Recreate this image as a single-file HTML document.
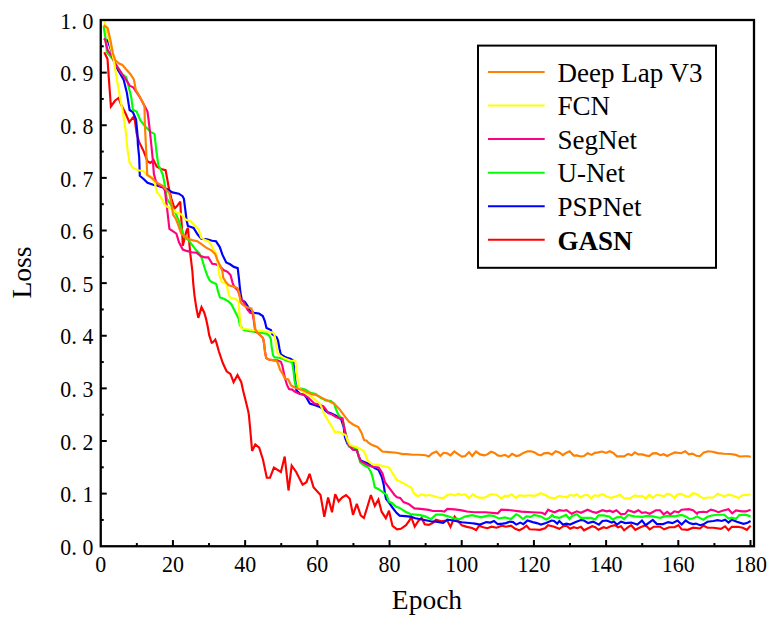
<!DOCTYPE html>
<html><head><meta charset="utf-8"><style>
html,body{margin:0;padding:0;background:#fff;}
body{width:777px;height:626px;overflow:hidden;}
svg{display:block;}
.t{font-family:"Liberation Serif",serif;font-size:23px;fill:#000;}
.ti{font-family:"Liberation Serif",serif;font-size:27.5px;fill:#000;}
.lg{font-family:"Liberation Serif",serif;font-size:27px;fill:#000;}
</style></head><body>
<svg width="777" height="626" viewBox="0 0 777 626">
<polyline points="104.3,52.2 107.5,59 108.8,78 110.9,106.5 115.2,100.5 118.6,98 121.3,105 125.6,113.5 129.3,122.2 133.2,117.2 134.9,120.6 136.6,133.2 139.2,142.2 143.6,151.1 147.5,161.3 150.4,163 153.6,160 156.6,166.4 161.1,169 165.6,170.2 167.5,180.4 168.8,188.1 171.3,198.3 174.5,208.6 177.1,206 180.3,201.5 180.9,213.7 182.2,231.6 182.8,245.8 184.7,238.1 186.6,230.4 187.9,227.9 189.2,242 190.4,254.7 192.4,271.3 193.2,282.8 194.5,295.6 196.4,308.3 198.3,317.9 201.5,307.1 204.1,312.2 206,318.6 207.9,327.5 209.2,335.2 211.7,342.8 212.6,342.6 215.3,339.5 216.4,342.6 218.9,351.5 222.8,363 226.6,371.3 230.4,373.9 233.6,382.2 237.5,375.1 241.3,382.2 243.2,391.1 245.8,401.3 248.3,411.6 248.9,415.1 250.2,429.2 252.1,450.9 255.3,444.5 259.2,447.7 263,459.8 266.8,477.7 270,477.7 273.9,467.5 280.9,472 284.7,456.6 288.5,490.5 291.7,465.6 296.2,472 302.6,484.7 306.4,482.2 309.6,473.9 313.5,487.3 320.5,495 324.3,516.7 328.1,497.5 332,512.2 335.2,494.3 338.6,501.3 342.1,497.5 346,495 349.8,498.8 353,514.8 356.8,503.9 360.7,515.4 363.9,518 367.1,507.7 370.9,495 374.8,505.9 378.4,499.5 381.6,511.7 385.8,518.2 389,510.8 392.5,525.9 397,529.4 400.9,528.8 406,525.2 409.3,520.7 411.2,516.9 414.7,526.5 418.5,520.7 421.6,517.7 424.7,524.3 428.8,524.9 432.9,522.8 436,519.7 441.2,521.3 444.3,520.7 447.4,520.7 450.5,526.9 454.6,516.6 457.7,520.7 461.8,525.4 466.9,526.9 472.1,528 476.2,530 479.1,525.7 483.2,527.2 487.4,528.2 491.5,526.7 496.6,527.7 501.8,525.7 505.9,526.7 511,525.7 515.2,528.8 519.3,530.3 523.4,528.2 526.5,525.7 529.6,529.3 534.7,529.5 539.9,529.8 545,528.2 548.1,525.2 552.2,526.2 554.1,526.7 559.3,528.8 563.4,526.2 566.5,525.7 570.1,528.8 573.7,527.2 577.3,528.2 580.9,526.7 584,530.3 588.1,528.2 592.2,526.2 595.3,527.2 598.4,529.8 603.5,527.2 606.6,528.2 610.7,526.2 614.9,525.2 618,527.2 621,526.2 624.1,530.3 628.2,527.2 631.2,525.2 635.3,529.8 640.4,527.2 645.6,525.2 649.7,529.3 653.8,526.7 660,526.7 664.1,529.3 669.3,527.2 674.4,527.2 678.5,525.2 681.6,529.3 687.8,529.8 693,527.7 700,528.5 703.4,525.6 707.5,527.7 713.4,527.7 720.9,528.9 725.1,526.4 728.5,530.2 731.8,526.8 737.7,526.8 742.7,527.7 746.9,529.8 750.6,525.6" fill="none" stroke="#ff0000" stroke-width="2.15" stroke-linejoin="miter" stroke-miterlimit="3" stroke-linecap="butt"/>
<polyline points="104.2,38.6 107.7,40.5 111.5,51.5 115.3,65.6 119.2,72 123.6,79.6 126.8,92.4 129.6,110 132.8,112.1 136,119.2 137.3,132 137.9,144.7 139.2,157.5 139.8,175.8 143.6,179 147.5,182.8 153.2,184.7 158.3,186 162.2,187.3 167.3,189.2 172.4,192.4 178.8,193.7 182.6,196.2 183.9,198.8 185.2,209 186.6,220.2 187.9,226 193.6,227.9 197.5,234.3 201.3,238.8 207.1,239.4 212.2,240.7 216,241.3 219.8,247.1 222.4,254.7 226.2,262.4 230.1,264.3 233.9,266.9 237.7,268.1 239,279 239.6,285 240.5,293 241.8,300 245,302 247.5,305.8 250.1,310.9 253.9,312.8 259,313.5 262.8,316 264.8,321.1 266.5,327.9 270.9,330 272.3,334.4 276.6,337.2 278.1,340.8 279.5,348.7 280.9,354.5 284.5,356.7 287.1,357.7 290.9,359 293.5,360.9 294.1,371.1 295.4,381.3 296.4,390.2 300.2,394.1 304.1,394.7 306.6,397.9 309.8,403.6 314.3,404.9 319.4,406.8 323.2,408.8 327.1,412 330.9,413.2 336,415.8 341.1,419 343.7,427.3 345,437.5 347.5,443.9 351.3,447.7 353,449.6 356.8,450.2 358.8,456.6 360.7,460.4 368.3,463.6 374.7,468.1 378.6,470 381.8,477.1 383.7,484.7 385,493.7 386,498.8 389.5,503.4 392.8,508 396.5,512.8 399.6,515.6 405.1,516.1 410.3,516.6 415.4,518.2 420.6,519.2 425.7,520.2 430.9,521.3 436,521.6 443.2,522.8 447.4,519.7 451.5,520.2 456.6,521.3 461.8,522.3 466.9,522.8 472.1,523.3 475,523.6 480.1,524.6 486.3,522.1 490.4,522.6 494,521 497.7,524.1 502.8,523.6 505.9,523.1 510,521.6 513.1,522.1 516.2,524.6 520.3,522.6 523.4,524.1 527.5,520.5 532.7,522.1 536.8,523.1 540.9,524.6 546,523.1 551.7,520.5 554.1,521 557.2,523.6 559.3,521 562.9,524.6 566.5,523.6 570.1,524.6 575.7,522.1 580.9,520 584,520.5 588.1,523.1 593.2,521.6 598.9,524.6 602.5,521 606.6,520.5 611.8,522.6 613.8,521.6 616.9,524.6 621,521.6 625.2,523.1 631.2,522.6 637.4,524.6 642,520.5 645.6,525.2 652.8,520 656.9,524.1 663.1,524.1 668.2,522.1 672.4,523.1 677.5,520.5 681.6,524.6 685.7,520.5 689.4,523.1 693,524.1 696,523.6 700,525.2 703.4,524.3 707.5,521.8 713.4,521 717.6,520.1 721.8,521 725.1,519.7 728.5,522.6 731.8,519.7 736.8,521.8 743.5,523.9 746.9,523.1 750.6,521" fill="none" stroke="#0000ff" stroke-width="2.15" stroke-linejoin="miter" stroke-miterlimit="3" stroke-linecap="butt"/>
<polyline points="103.6,26.4 105.8,40 106.9,52.4 112.4,58.8 117.9,67.5 122.4,74.5 126.2,77.1 128.8,87.3 131.3,97.5 132.9,109.8 136.6,111.5 140.4,120.4 145.6,126.8 150.7,132 154.5,133.9 156.4,151.1 158.3,165.2 160.4,169 163,175.3 164.9,185.6 166.8,198.3 170.7,204.7 174.5,211.1 178.6,220.1 181.5,229.2 184.1,236.8 189.2,240.7 191.7,244.5 195.6,249.6 199.4,253.5 201.9,258.6 204.5,267.5 207.1,275.2 209.6,280.3 211.7,282.1 216.2,284.1 218.1,291.7 220,297.5 223.9,298.8 228.3,301.3 231.5,304.5 235.4,312.2 238.6,318.6 239.8,325 243.7,330.1 250.1,331.1 257.2,332.2 266.5,333.6 269.4,335.8 270.9,339.4 271.6,346.6 273,355.2 274.5,357.4 278.8,357.7 282.4,358.8 287.4,361 292.2,362.2 293.5,371.1 294.7,381.3 295.8,385.1 300.2,388.3 305.3,389.6 310.4,392.8 315.6,394.1 320.7,397.9 325.8,400.4 330.9,401.1 334.1,403.6 336,409.4 338.6,415.1 341.1,417.7 342.4,418.3 343.7,424.7 345,431.1 346.9,438.8 348.8,446.5 353.9,447.7 357.2,450 358.8,456.6 360.2,462.4 364.5,465.6 368.3,467.5 371.5,473.2 373.5,480.9 374.7,487.3 378.6,489.2 382.4,491.8 385,493.7 386.7,495 388.7,501.4 391.9,503 395.7,506.6 399.6,507.9 405.1,511.5 410.3,514 415.4,514.6 420.6,515.1 425.7,516.6 430.9,519.2 436,514.6 442.2,514.6 447.4,516.1 453.5,518.2 459.7,519.2 464.9,516.6 472.1,515.1 481.2,517.4 488.4,515.4 493.5,515.9 498.7,518.5 504.9,517.4 511,519 516.2,514.3 519.3,515.9 522.9,519 526.5,516.4 530.6,516.9 534.2,514.9 540.9,516.4 546,519.5 549.1,518 552.2,514.9 554.1,516.9 559.3,517.9 566,514.9 569.6,519 572.1,515.9 576.8,514.3 580.9,517.9 586,517.9 591.2,517.9 595.3,519.5 598.4,515.4 603.5,515.4 609.2,516.4 612.8,519.5 616.9,517.4 621,516.9 624.1,519 628.1,514.9 634.3,516.4 642.5,516.9 646.6,515.9 652.8,516.4 660,518 664.1,516.4 669.3,515.9 674.4,516.4 681.6,514.9 685.7,516.4 689.4,519 693,518.5 697.1,516.4 699.2,517.6 703.4,519.7 707.5,516.8 711.7,515.5 717.6,514.7 724.3,514.7 728.5,518.5 731.8,517.6 736,518.9 739.3,515.1 745.2,514.7 750.6,516.4" fill="none" stroke="#00ff00" stroke-width="2.15" stroke-linejoin="miter" stroke-miterlimit="3" stroke-linecap="butt"/>
<polyline points="104,38.4 105.1,40 107.7,50.2 111.2,55 112.1,56.6 114,61.5 117.3,66.8 122.4,74.5 126.8,80.9 130,86 133.2,87.3 135.8,91.1 140,97.5 144.9,106.5 147.5,111.5 148.6,120 150,132 152.6,157.5 153.9,174.1 156,181.7 159.2,185.6 163,186.8 164.9,190.7 166.8,206 168.1,217.5 169.4,229 173.5,231.7 176.4,233.6 178.9,242 182.8,249.6 186.6,250.9 191.7,252.2 196.8,252.8 200.7,256 204.5,257.3 208.3,257.3 212.2,263.7 216,264.3 219.8,266.2 223.5,270.1 227.5,271.8 230.5,275 232.6,282.8 234.1,286.6 237.9,290.4 240.5,298.1 243.7,302 247.5,309.6 250.1,312.8 252.6,313.5 253.9,321.1 255.2,331.3 257.2,332.5 260.8,335.8 263,338 264,343 265.1,352.3 266.2,358.1 268.7,359.5 273.7,360.3 277.3,360.3 280.9,361.7 282.4,366 285.1,378.8 287.1,385.2 289,389 292.2,389.6 294.7,391.6 298.6,393.5 303.7,394.8 307.9,397.3 311.7,401.1 314.3,403.6 318.1,404.3 323.2,406.2 325.8,409.4 328.3,413.2 332.2,414.5 336,417.1 339.8,418.3 342.4,418.3 343.7,424.7 345,431.1 346.9,438.8 348.8,445.2 351.3,447.7 353,449.6 356.8,450.2 358.8,456.6 360.7,461.1 367.1,464.9 372.2,466.8 378.6,467.5 382.4,473.2 385,482.2 388.8,487.3 392.6,492.4 394.5,495 397,497.3 400.2,497.9 403.5,502.1 408.6,504 414.4,508.4 420.6,508.9 428.8,509.9 432.9,511 441.2,511 444.3,511.5 447.4,508.9 454.6,509.4 461.8,510.4 466.9,511.5 474.1,512.2 485.3,512.3 497.7,513.3 501.3,509.7 511,510.2 521.3,511.6 531.6,512.3 541.9,512.8 545,514.3 548.1,509.7 550,510.7 554.6,512.3 559.3,510.2 563.4,510.7 566.5,510.2 571.6,513.8 576.8,511.3 580.9,512.8 587.6,509.7 592.2,511.8 596.3,512.8 602.5,510.2 606.6,511.3 609.7,510.7 612.8,512 616.4,510.2 621,514.3 625.2,513.8 628.1,510.2 634.3,512.3 638.4,510.2 642,512.8 645.6,512.3 649.7,513.8 655.9,510.2 660,510.2 663.6,514.3 667.2,511.8 670.3,514.3 674.4,511.3 678.5,512.3 681.6,509.7 688.8,509.2 693,510.2 697.1,513.8 698.3,512.2 703.4,511.8 706.7,512.2 710.9,509.7 714.2,510.5 718.4,512.2 723.4,510.5 728.5,509.3 732.2,513.4 736,510.5 741.8,511.4 746,511.4 750.6,509.7" fill="none" stroke="#ff0080" stroke-width="2.15" stroke-linejoin="miter" stroke-miterlimit="3" stroke-linecap="butt"/>
<polyline points="104.4,20.5 108.6,38 113.7,59.6 117,80 120.5,100 123.2,114 125.8,132 127.7,151.1 129.6,162.6 132.8,167.7 137.9,170.3 143.6,171.3 146.8,175.1 151.9,177.1 154.5,182.2 157.1,192.4 159.6,195.3 162.1,199.2 164.7,204.9 167.3,206.8 172.4,209.4 175.6,212 180.7,213.9 185.8,219.6 190.9,221.5 194.1,224.7 198.6,229.2 201.1,237.5 205,240.1 208.8,241.3 211.3,245.2 213.9,250.3 216.5,254.1 217.3,260 217.9,263.7 219.2,274.5 221.5,281.5 226.5,284.1 229,295.6 230.9,298.1 235.4,298.8 238.6,301.9 239.2,310.9 240.5,325 241.8,328.8 247.5,329.2 253.9,330.3 261.6,331 266.6,331.5 273,332.6 274.5,334.4 275.2,339.4 276.3,346.6 277.3,352.3 279.5,355.2 283.8,358.1 290,360.5 295.4,360.9 296.6,371.1 297.9,381.3 299.2,387.7 302.8,391.5 309.2,394.7 314.3,399.2 319.4,403 321.9,408.1 324.5,414.5 328.3,420.9 332.2,427.3 334.7,431.8 338.6,431.8 342.4,433.7 345.6,435 347.5,440.1 350.1,445.2 355.2,446.5 359.6,448.4 363.7,451 366,456 367.3,460.4 372.2,464.3 378.6,464.9 383.7,466.2 388.8,467.5 392.6,473.2 396.5,479.6 400,481.5 405.1,484.1 411.5,487.9 414.1,493.7 417.9,496.2 421.7,494.3 425.6,495.6 429.4,495 434.5,496.2 438.3,497.5 443.5,498.1 447.3,495 451.1,494.3 455,495.6 458.1,493.7 461.3,495 465.2,494.3 469,498.1 472.8,494.3 476.7,496.9 480.1,497.9 485.3,497.4 490.4,494.3 496.6,494.8 501.3,498.4 504.9,495.8 509,495.8 511.6,494.3 515.7,497.9 519.3,495.3 524.4,495.8 529.6,495.3 534.7,495.8 540.9,493.2 546,495.3 549.1,497.4 554.6,498.4 559.3,495.8 563.4,496.8 566.5,497.4 570.1,494.8 573.7,495.8 576.8,494.3 580.4,497.4 584,495.3 587.6,494.8 591.2,498.4 594.3,495.3 598.4,495.8 602.5,494.3 606.1,496.3 610.7,497.9 614.9,496.8 620,494.8 624.1,498.4 630.1,498.4 634.8,495.3 638.4,496.3 642,495.8 645.6,498.4 649.2,494.8 652.8,497.9 656.4,494.8 660,495.3 664.1,496.3 667.2,493.8 670.8,494.8 674.4,497.9 677.5,494.3 681.1,493.8 684.7,495.8 688.8,496.8 693,493.2 697.1,494.3 699.2,495.9 703.4,498.4 707.5,497.5 713.4,497.5 717.6,493.8 720.9,495 724.3,496.3 728.5,494.6 732.6,495.5 738.5,498 742.7,495 746.9,495 750.6,494.2" fill="none" stroke="#ffff00" stroke-width="2.15" stroke-linejoin="miter" stroke-miterlimit="3" stroke-linecap="butt"/>
<polyline points="103.6,25.2 107.6,28 110.4,40 112.8,52.8 115.3,60.4 119.2,63.6 122.4,64.9 125.6,68.8 130.7,74.5 133.9,79.6 135.8,89.8 139.6,96.2 143.5,103.9 144.5,107 144.9,125.6 146.2,151.1 147.2,175 151.5,177.9 157.7,183.2 162.8,185.8 166.6,190.2 169.2,192.8 171.1,201.7 173,214.5 175.6,218.3 178.1,224.7 181.3,233.7 185.1,236.2 188.3,238.8 192.2,240.1 197.3,241.3 201.1,243.9 206.2,247.7 211.3,250.3 215.2,254.1 217.5,260.5 220.5,266.2 222.4,271.3 223.2,277.7 225.6,281.6 228.8,285.4 233.9,286.7 237.5,288 239.2,293 240.5,302 242.4,304.5 246.2,307.1 251.3,308.3 253.3,313.5 254.5,323.7 255.4,329.3 257.2,332.2 260.8,335.8 263,338 264,343 265.1,352.3 266.2,358.1 268.7,359.5 273.7,360.3 276.6,361 278.1,363.8 280.2,370 282.6,373.7 285.1,378.8 288.3,379.4 290.9,385.2 293.8,387 298.6,389 303.7,390.3 306.6,392.1 311.7,394.1 316.8,395.3 322,397.9 327.1,400.4 334.3,403.9 339.1,408.7 343.9,415.1 348.7,421.5 353.5,424.7 358.3,427.1 361.5,432.7 364.1,440.1 366.7,440.7 368.3,442.6 372.2,445.1 377.3,447 382.4,451.5 388.8,452.1 396.5,452.8 402.8,454.1 406.4,454.1 412.8,454.7 419.2,454.7 425.6,455.3 428.8,456.6 432,453.4 436.4,451.5 440.3,456 443.5,452.8 447.3,453.4 450.5,455.3 454.3,451.5 458.8,454.7 462,456.6 465.2,456 469,452.1 472.2,456 476,451.5 480.1,454.4 484.3,455.4 487.4,454.4 491,451.8 494.6,452.9 497.7,455.4 500.7,456 504.9,454.9 508.5,457 512.1,453.9 516.2,456 519.3,455.4 523.4,452.9 527.5,451.3 531.1,451.3 534.7,452.4 537.8,454.4 540.9,455.4 544,453.4 548.1,452.9 552.1,454.4 555.7,451.3 559.3,452.4 562.9,455.2 566,452.9 569.6,451.3 573.7,455.6 576.8,455.4 580.9,456.5 584,456 587.6,453.2 591.7,454.9 594.8,452.9 598.4,452.4 602,451.5 606.1,452.9 609.7,451.3 613.3,452.9 616.9,456.3 624.1,456.3 628.1,453.9 631.7,455.2 634.8,452.4 638.4,454.4 642,454.4 645.6,455.4 649.2,456 652.8,453.4 656.4,453.2 660.5,455.2 663.6,454.2 667.2,456 671.3,453.9 674.9,452.4 681.1,453.2 685.2,451.3 688.8,454.4 692.4,453.6 696.3,455.8 699.9,456.2 703.5,452.6 708,451.3 712.5,451.7 717.9,453.1 724.2,453.7 730.5,454 735.9,454.9 739.5,456.5 744.1,456.2 747.7,456.2 750.8,456.7" fill="none" stroke="#ff8000" stroke-width="2.15" stroke-linejoin="miter" stroke-miterlimit="3" stroke-linecap="butt"/>
<rect x="100.75" y="20" width="653.25" height="526.25" fill="none" stroke="#000" stroke-width="2.3"/>
<line x1="136.85" y1="546.25" x2="136.85" y2="543.05" stroke="#000" stroke-width="2"/>
<line x1="172.94" y1="546.25" x2="172.94" y2="540.05" stroke="#000" stroke-width="2"/>
<line x1="209.04" y1="546.25" x2="209.04" y2="543.05" stroke="#000" stroke-width="2"/>
<line x1="245.14" y1="546.25" x2="245.14" y2="540.05" stroke="#000" stroke-width="2"/>
<line x1="281.24" y1="546.25" x2="281.24" y2="543.05" stroke="#000" stroke-width="2"/>
<line x1="317.33" y1="546.25" x2="317.33" y2="540.05" stroke="#000" stroke-width="2"/>
<line x1="353.43" y1="546.25" x2="353.43" y2="543.05" stroke="#000" stroke-width="2"/>
<line x1="389.53" y1="546.25" x2="389.53" y2="540.05" stroke="#000" stroke-width="2"/>
<line x1="425.62" y1="546.25" x2="425.62" y2="543.05" stroke="#000" stroke-width="2"/>
<line x1="461.72" y1="546.25" x2="461.72" y2="540.05" stroke="#000" stroke-width="2"/>
<line x1="497.82" y1="546.25" x2="497.82" y2="543.05" stroke="#000" stroke-width="2"/>
<line x1="533.92" y1="546.25" x2="533.92" y2="540.05" stroke="#000" stroke-width="2"/>
<line x1="570.01" y1="546.25" x2="570.01" y2="543.05" stroke="#000" stroke-width="2"/>
<line x1="606.11" y1="546.25" x2="606.11" y2="540.05" stroke="#000" stroke-width="2"/>
<line x1="642.21" y1="546.25" x2="642.21" y2="543.05" stroke="#000" stroke-width="2"/>
<line x1="678.31" y1="546.25" x2="678.31" y2="540.05" stroke="#000" stroke-width="2"/>
<line x1="714.40" y1="546.25" x2="714.40" y2="543.05" stroke="#000" stroke-width="2"/>
<line x1="750.50" y1="546.25" x2="750.50" y2="540.05" stroke="#000" stroke-width="2"/>
<line x1="100.75" y1="519.94" x2="103.75" y2="519.94" stroke="#000" stroke-width="2"/>
<line x1="100.75" y1="493.62" x2="106.75" y2="493.62" stroke="#000" stroke-width="2"/>
<line x1="100.75" y1="467.31" x2="103.75" y2="467.31" stroke="#000" stroke-width="2"/>
<line x1="100.75" y1="441.00" x2="106.75" y2="441.00" stroke="#000" stroke-width="2"/>
<line x1="100.75" y1="414.69" x2="103.75" y2="414.69" stroke="#000" stroke-width="2"/>
<line x1="100.75" y1="388.38" x2="106.75" y2="388.38" stroke="#000" stroke-width="2"/>
<line x1="100.75" y1="362.06" x2="103.75" y2="362.06" stroke="#000" stroke-width="2"/>
<line x1="100.75" y1="335.75" x2="106.75" y2="335.75" stroke="#000" stroke-width="2"/>
<line x1="100.75" y1="309.44" x2="103.75" y2="309.44" stroke="#000" stroke-width="2"/>
<line x1="100.75" y1="283.12" x2="106.75" y2="283.12" stroke="#000" stroke-width="2"/>
<line x1="100.75" y1="256.81" x2="103.75" y2="256.81" stroke="#000" stroke-width="2"/>
<line x1="100.75" y1="230.50" x2="106.75" y2="230.50" stroke="#000" stroke-width="2"/>
<line x1="100.75" y1="204.19" x2="103.75" y2="204.19" stroke="#000" stroke-width="2"/>
<line x1="100.75" y1="177.88" x2="106.75" y2="177.88" stroke="#000" stroke-width="2"/>
<line x1="100.75" y1="151.56" x2="103.75" y2="151.56" stroke="#000" stroke-width="2"/>
<line x1="100.75" y1="125.25" x2="106.75" y2="125.25" stroke="#000" stroke-width="2"/>
<line x1="100.75" y1="98.94" x2="103.75" y2="98.94" stroke="#000" stroke-width="2"/>
<line x1="100.75" y1="72.62" x2="106.75" y2="72.62" stroke="#000" stroke-width="2"/>
<line x1="100.75" y1="46.31" x2="103.75" y2="46.31" stroke="#000" stroke-width="2"/>
<text transform="translate(100.75,572.2) scale(0.955,1)" text-anchor="middle" class="t">0</text>
<text transform="translate(172.94,572.2) scale(0.955,1)" text-anchor="middle" class="t">20</text>
<text transform="translate(245.14,572.2) scale(0.955,1)" text-anchor="middle" class="t">40</text>
<text transform="translate(317.33,572.2) scale(0.955,1)" text-anchor="middle" class="t">60</text>
<text transform="translate(389.53,572.2) scale(0.955,1)" text-anchor="middle" class="t">80</text>
<text transform="translate(461.72,572.2) scale(0.955,1)" text-anchor="middle" class="t">100</text>
<text transform="translate(533.92,572.2) scale(0.955,1)" text-anchor="middle" class="t">120</text>
<text transform="translate(606.11,572.2) scale(0.955,1)" text-anchor="middle" class="t">140</text>
<text transform="translate(678.31,572.2) scale(0.955,1)" text-anchor="middle" class="t">160</text>
<text transform="translate(750.50,572.2) scale(0.955,1)" text-anchor="middle" class="t">180</text>
<text transform="translate(65.7,554.95) scale(0.95,1)" text-anchor="middle" class="t">0</text>
<text x="74" y="554.95" text-anchor="middle" class="t">.</text>
<text transform="translate(88,554.95) scale(0.95,1)" text-anchor="middle" class="t">0</text>
<text transform="translate(65.7,502.32) scale(0.95,1)" text-anchor="middle" class="t">0</text>
<text x="74" y="502.32" text-anchor="middle" class="t">.</text>
<text transform="translate(88,502.32) scale(0.95,1)" text-anchor="middle" class="t">1</text>
<text transform="translate(65.7,449.70) scale(0.95,1)" text-anchor="middle" class="t">0</text>
<text x="74" y="449.70" text-anchor="middle" class="t">.</text>
<text transform="translate(88,449.70) scale(0.95,1)" text-anchor="middle" class="t">2</text>
<text transform="translate(65.7,397.07) scale(0.95,1)" text-anchor="middle" class="t">0</text>
<text x="74" y="397.07" text-anchor="middle" class="t">.</text>
<text transform="translate(88,397.07) scale(0.95,1)" text-anchor="middle" class="t">3</text>
<text transform="translate(65.7,344.45) scale(0.95,1)" text-anchor="middle" class="t">0</text>
<text x="74" y="344.45" text-anchor="middle" class="t">.</text>
<text transform="translate(88,344.45) scale(0.95,1)" text-anchor="middle" class="t">4</text>
<text transform="translate(65.7,291.82) scale(0.95,1)" text-anchor="middle" class="t">0</text>
<text x="74" y="291.82" text-anchor="middle" class="t">.</text>
<text transform="translate(88,291.82) scale(0.95,1)" text-anchor="middle" class="t">5</text>
<text transform="translate(65.7,239.20) scale(0.95,1)" text-anchor="middle" class="t">0</text>
<text x="74" y="239.20" text-anchor="middle" class="t">.</text>
<text transform="translate(88,239.20) scale(0.95,1)" text-anchor="middle" class="t">6</text>
<text transform="translate(65.7,186.57) scale(0.95,1)" text-anchor="middle" class="t">0</text>
<text x="74" y="186.57" text-anchor="middle" class="t">.</text>
<text transform="translate(88,186.57) scale(0.95,1)" text-anchor="middle" class="t">7</text>
<text transform="translate(65.7,133.95) scale(0.95,1)" text-anchor="middle" class="t">0</text>
<text x="74" y="133.95" text-anchor="middle" class="t">.</text>
<text transform="translate(88,133.95) scale(0.95,1)" text-anchor="middle" class="t">8</text>
<text transform="translate(65.7,81.33) scale(0.95,1)" text-anchor="middle" class="t">0</text>
<text x="74" y="81.33" text-anchor="middle" class="t">.</text>
<text transform="translate(88,81.33) scale(0.95,1)" text-anchor="middle" class="t">9</text>
<text transform="translate(65.7,28.70) scale(0.95,1)" text-anchor="middle" class="t">1</text>
<text x="74" y="28.70" text-anchor="middle" class="t">.</text>
<text transform="translate(88,28.70) scale(0.95,1)" text-anchor="middle" class="t">0</text>
<text x="427" y="608.7" text-anchor="middle" class="ti">Epoch</text>
<text transform="translate(31.3,272.5) rotate(-90)" text-anchor="middle" class="ti">Loss</text>
<rect x="478" y="45.6" width="238" height="222.2" fill="#fff" stroke="#000" stroke-width="2"/>
<line x1="488" y1="72.00" x2="544.7" y2="72.00" stroke="#ff8000" stroke-width="2"/>
<text x="557.5" y="81.80" class="lg">Deep Lap V3</text>
<line x1="488" y1="105.55" x2="544.7" y2="105.55" stroke="#ffff00" stroke-width="2"/>
<text x="557.5" y="115.35" class="lg">FCN</text>
<line x1="488" y1="139.10" x2="544.7" y2="139.10" stroke="#ff0080" stroke-width="2"/>
<text x="557.5" y="148.90" class="lg">SegNet</text>
<line x1="488" y1="172.65" x2="544.7" y2="172.65" stroke="#00ff00" stroke-width="2"/>
<text x="557.5" y="182.45" class="lg">U-Net</text>
<line x1="488" y1="206.20" x2="544.7" y2="206.20" stroke="#0000ff" stroke-width="2"/>
<text x="557.5" y="216.00" class="lg">PSPNet</text>
<line x1="488" y1="239.75" x2="544.7" y2="239.75" stroke="#ff0000" stroke-width="2"/>
<text x="557.5" y="249.55" class="lg" font-weight="bold">GASN</text>
</svg>
</body></html>
